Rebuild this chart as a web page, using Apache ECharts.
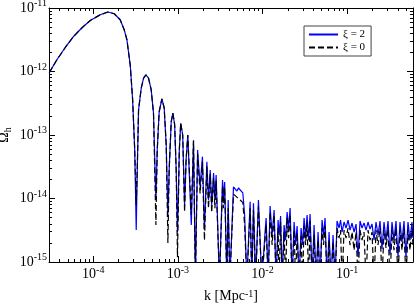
<!DOCTYPE html>
<html><head><meta charset="utf-8">
<script src="https://cdn.jsdelivr.net/npm/echarts@6/dist/echarts.min.js"></script>
<style>html,body{margin:0;padding:0;background:#fff}#c{width:415px;height:305px}</style>
</head><body><div id="c"></div>
<script>
const seriesNames = ['ξ = 2', 'ξ = 0'];

const kValues = [
  3.02e-5, 3.72e-5, 4.67e-5, 5.85e-5, 7.36e-5, 9.22e-5, 1.21e-4, 1.49e-4, 1.77e-4, 2.08e-4, 2.32e-4, 2.50e-4, 2.74e-4, 2.92e-4, 3.09e-4, 3.22e-4,
  3.33e-4, 3.43e-4, 3.69e-4, 3.93e-4, 4.19e-4, 4.50e-4, 4.84e-4, 5.15e-4, 5.50e-4,
  5.70e-4, 6.01e-4, 6.47e-4, 6.89e-4, 7.28e-4, 7.62e-4,
  7.89e-4, 8.34e-4, 8.73e-4, 9.16e-4, 9.55e-4, 9.89e-4,
  1.04e-3, 1.08e-3, 1.14e-3, 1.20e-3, 1.25e-3, 1.31e-3, 1.44e-3,
  1.53e-3, 1.61e-3, 1.71e-3, 1.83e-3, 1.95e-3, 2.06e-3, 2.20e-3, 2.30e-3, 2.41e-3, 2.51e-3, 2.64e-3, 2.74e-3, 2.83e-3, 3.10e-3,
  3.37e-3, 3.45e-3, 3.57e-3, 3.79e-3, 3.93e-3, 4.11e-3, 4.54e-3, 4.75e-3, 4.98e-3, 5.22e-3, 5.45e-3, 5.85e-3, 6.15e-3, 6.53e-3,
  7.14e-3, 7.48e-3, 7.82e-3, 8.30e-3, 8.95e-3, 9.82e-3, 1.07e-2,
  1.103e-2, 1.165e-2, 1.229e-2, 1.298e-2, 1.371e-2, 1.447e-2, 1.528e-2, 1.570e-2, 1.636e-2, 1.704e-2, 1.799e-2, 1.874e-2, 1.952e-2, 2.033e-2, 2.118e-2, 2.236e-2, 2.361e-2, 2.459e-2, 2.562e-2, 2.704e-2,
  2.856e-2, 2.974e-2, 3.098e-2, 3.227e-2, 3.362e-2, 3.502e-2, 3.648e-2, 3.851e-2, 4.066e-2, 4.293e-2, 4.533e-2, 4.786e-2, 5.054e-2, 5.264e-2, 5.483e-2, 5.790e-2, 6.114e-2, 6.455e-2, 6.816e-2, 7.197e-2,
  7.600e-2, 8.025e-2, 8.359e-2, 8.707e-2, 9.192e-2, 9.705e-2, 0.1025, 0.1082, 0.1143, 0.1207, 0.1274, 0.1345, 0.1420, 0.1500, 0.1583, 0.1672, 0.1765, 0.1864, 0.1968, 0.2078,
  0.2194, 0.2317, 0.2446, 0.2582, 0.2727, 0.2879, 0.3040, 0.3210, 0.3389, 0.3578, 0.3778, 0.3989, 0.4212, 0.4447, 0.4696, 0.4958, 0.5236, 0.5528, 0.5837, 0.5998
];

const omegaXi2 = [
  9.6e-13, 1.53e-12, 2.39e-12, 3.56e-12, 4.89e-12, 6.37e-12, 7.83e-12, 8.65e-12, 8.13e-12, 6.53e-12, 4.55e-12, 3.16e-12, 1.23e-12, 3.58e-13, 5.82e-14, 3.18e-15,
  4.05e-14, 2.49e-13, 5.47e-13, 7.87e-13, 8.87e-13, 7.87e-13, 5.14e-13, 2.21e-13, 9.46e-15,
  5.82e-14, 2.31e-13, 3.71e-13, 2.67e-13, 6.98e-14, 5.50e-15,
  2.82e-14, 1.61e-13, 2.21e-13, 1.45e-13, 2.82e-14, 2.95e-15,
  5.82e-14, 1.53e-13, 1.00e-13, 7.94e-15, 4.05e-14, 1.00e-13, 3.82e-15,
  8.17e-14, 5e-16, 5.82e-14, 1.53e-14, 4.56e-14, 3.18e-15, 3.80e-14, 9.46e-15, 2.82e-14, 7.94e-15, 2.52e-14, 9.46e-15, 2.35e-14, 5e-16,
  1.96e-14, 9.46e-15, 1.82e-14, 5e-16, 9.46e-15, 5e-16, 1.53e-14, 1.47e-14, 1.31e-14, 1.47e-14, 1.36e-14, 1.23e-14, 5.50e-15, 5e-16,
  8.91e-15, 5e-16, 8.40e-15, 5e-16, 9.46e-15, 5e-16, 2.86e-15,
  4.92e-15, 5e-16, 7.62e-15, 2.66e-15, 6.59e-15, 5e-16, 4.58e-15, 2.66e-15, 5.30e-15, 5e-16, 3.82e-15, 2.21e-15, 6.12e-15, 3.43e-15, 7.08e-15, 5e-16, 4.26e-15, 1.85e-15, 3.68e-15, 5e-16,
  3.43e-15, 1.85e-15, 4.92e-15, 2.38e-15, 5.50e-15, 2.21e-15, 5.70e-15, 5e-16, 3.82e-15, 5e-16, 2.96e-15, 5e-16, 4.58e-15, 2.66e-15, 4.92e-15, 5e-16, 2.96e-15, 5e-16, 2.66e-15, 5e-16,
  4.42e-15, 3.43e-15, 4.58e-15, 2.96e-15, 4.26e-15, 3.43e-15, 4.58e-15, 3.18e-15, 4.11e-15, 2.96e-15, 3.96e-15, 1.2e-15, 4.42e-15, 3.43e-15, 4.11e-15, 3.18e-15, 4.26e-15, 3.30e-15, 3.96e-15, 2.21e-15,
  4.26e-15, 2.66e-15, 4.42e-15, 1.6e-15, 4.26e-15, 2.21e-15, 4.42e-15, 1.3e-15, 4.26e-15, 2.21e-15, 4.42e-15, 1.2e-15, 4.26e-15, 2.06e-15, 4.42e-15, 1.2e-15, 4.26e-15, 2.21e-15, 4.26e-15, 2.38e-15
];

const omegaXi0 = [
  9.6e-13, 1.53e-12, 2.39e-12, 3.56e-12, 4.89e-12, 6.37e-12, 7.83e-12, 8.65e-12, 8.13e-12, 6.53e-12, 4.55e-12, 3.16e-12, 1.23e-12, 3.58e-13, 5.82e-14, 7.94e-15,
  4.05e-14, 2.49e-13, 5.47e-13, 7.87e-13, 8.87e-13, 7.87e-13, 5.14e-13, 2.21e-13, 3.82e-15,
  5.82e-14, 2.31e-13, 3.71e-13, 2.67e-13, 6.98e-14, 1.99e-15,
  2.82e-14, 1.61e-13, 2.21e-13, 1.45e-13, 2.82e-14, 1.19e-15,
  5.82e-14, 1.53e-13, 1.00e-13, 6.12e-15, 4.05e-14, 1.00e-13, 5.50e-15,
  8.17e-14, 5e-16, 5.0e-14, 1.2e-14, 3.8e-14, 2.2e-15, 3.2e-14, 7.0e-15, 2.4e-14, 6.0e-15, 2.1e-14, 7.0e-15, 1.9e-14, 5e-16,
  1.6e-14, 7.0e-15, 1.5e-14, 5e-16, 7.0e-15, 5e-16, 1.17e-14, 1.10e-14, 1.05e-14, 9.82e-15, 9.46e-15, 8.59e-15, 3.82e-15, 5e-16,
  7.0e-15, 5e-16, 6.5e-15, 5e-16, 7.5e-15, 5e-16, 2.2e-15,
  3.82e-15, 5e-16, 6.12e-15, 1.85e-15, 5.50e-15, 5e-16, 3.43e-15, 5e-16, 4.26e-15, 5e-16, 2.96e-15, 5e-16, 4.92e-15, 2.38e-15, 5.50e-15, 5e-16, 3.18e-15, 5e-16, 2.86e-15, 5e-16,
  2.56e-15, 5e-16, 3.68e-15, 1.85e-15, 4.26e-15, 5e-16, 4.42e-15, 5e-16, 2.66e-15, 5e-16, 2.21e-15, 5e-16, 3.43e-15, 1.85e-15, 3.68e-15, 5e-16, 2.21e-15, 5e-16, 2.06e-15, 5e-16,
  3.43e-15, 2.38e-15, 3.18e-15, 5e-16, 3.18e-15, 2.38e-15, 3.43e-15, 1.85e-15, 2.96e-15, 1.54e-15, 2.96e-15, 5e-16, 3.18e-15, 2.21e-15, 2.96e-15, 5e-16, 3.18e-15, 2.21e-15, 2.96e-15, 5e-16,
  3.18e-15, 1.85e-15, 3.43e-15, 5e-16, 3.18e-15, 1.66e-15, 3.30e-15, 5e-16, 3.18e-15, 1.54e-15, 3.43e-15, 5e-16, 3.18e-15, 1.54e-15, 3.30e-15, 5e-16, 3.18e-15, 1.54e-15, 3.18e-15, 1.85e-15
];

const xRange = [3e-5, 0.6];
const yRange = [1e-15, 1e-11];

const FONT = 'Liberation Serif';
const richLabel = {
  b: { fontFamily: FONT, fontSize: 14, color: '#000', lineHeight: 19 },
  sup: { fontFamily: FONT, fontSize: 10, color: '#000', verticalAlign: 'top' }
};
function powLabel(v) {
  const e = Math.log10(v);
  const r = Math.round(e);
  if (Math.abs(e - r) > 1e-6) return '';
  return '{b|10}{sup|' + r + '}';
}
function logAxis(range, pos, showLabel, extra) {
  return Object.assign({
    type: 'log', logBase: 10, min: range[0], max: range[1], position: pos,
    axisLine: { show: true, onZero: false, lineStyle: { color: '#000', width: 1 } },
    axisTick: { show: true, inside: true, length: 6, lineStyle: { color: '#000', width: 1 } },
    minorTick: { show: true, splitNumber: 9, length: 3, lineStyle: { color: '#000', width: 1 } },
    splitLine: { show: false }, minorSplitLine: { show: false },
    axisLabel: { show: showLabel, formatter: powLabel, rich: richLabel }
  }, extra || {});
}

const chart = echarts.init(document.getElementById('c'), null, { renderer: 'canvas' });
chart.setOption({
  animation: false,
  backgroundColor: '#fff',
  grid: { left: 49, top: 8, right: 2, bottom: 43, containLabel: false, outerBoundsMode: 'none' },
  legend: {
    left: 304, top: 26, orient: 'vertical',
    padding: [3, 6, 3, 4], itemGap: 2, itemWidth: 29, itemHeight: 10,
    borderColor: '#444', borderWidth: 1, backgroundColor: '#fff',
    itemStyle: { opacity: 0 },
    textStyle: { fontFamily: FONT, fontSize: 11, color: '#000' },
    data: seriesNames
  },
  xAxis: [
    logAxis(xRange, 'bottom', true, {
      name: 'k [Mpc{sup|-1}]', nameLocation: 'middle', nameGap: 27,
      nameTextStyle: { fontFamily: FONT, fontSize: 14, color: '#000',
        rich: { sup: { fontFamily: FONT, fontSize: 10, color: '#000', verticalAlign: 'top' } } },
      axisLabel: { show: true, formatter: powLabel, rich: richLabel, margin: 3 }
    }),
    logAxis(xRange, 'top', false)
  ],
  yAxis: [
    logAxis(yRange, 'left', true, {
      name: 'Ω{sub|h}', nameLocation: 'middle', nameGap: 36, nameRotate: 90, nameMoveOverlap: false,
      nameTextStyle: { fontFamily: FONT, fontSize: 14, color: '#000', lineHeight: 18,
        rich: { sub: { fontFamily: FONT, fontSize: 10, color: '#000', verticalAlign: 'bottom' } } },
      axisLabel: { show: true, formatter: powLabel, rich: richLabel, margin: 2 }
    }),
    logAxis(yRange, 'right', false)
  ],
  series: [
    {
      name: seriesNames[0], type: 'line', symbol: 'none', showSymbol: false, clip: true,
      xAxisIndex: 0, yAxisIndex: 0,
      lineStyle: { color: '#0000ff', width: 1.2, type: 'solid' },
      itemStyle: { color: '#0000ff' },
      data: kValues.map((k, i) => [k, omegaXi2[i]])
    },
    {
      name: seriesNames[1], type: 'line', symbol: 'none', showSymbol: false, clip: true,
      xAxisIndex: 0, yAxisIndex: 0,
      lineStyle: { color: '#000000', width: 1.2, type: [6, 3] },
      itemStyle: { color: '#000000' },
      data: kValues.map((k, i) => [k, omegaXi0[i]])
    }
  ]
});
</script>
</body></html>
